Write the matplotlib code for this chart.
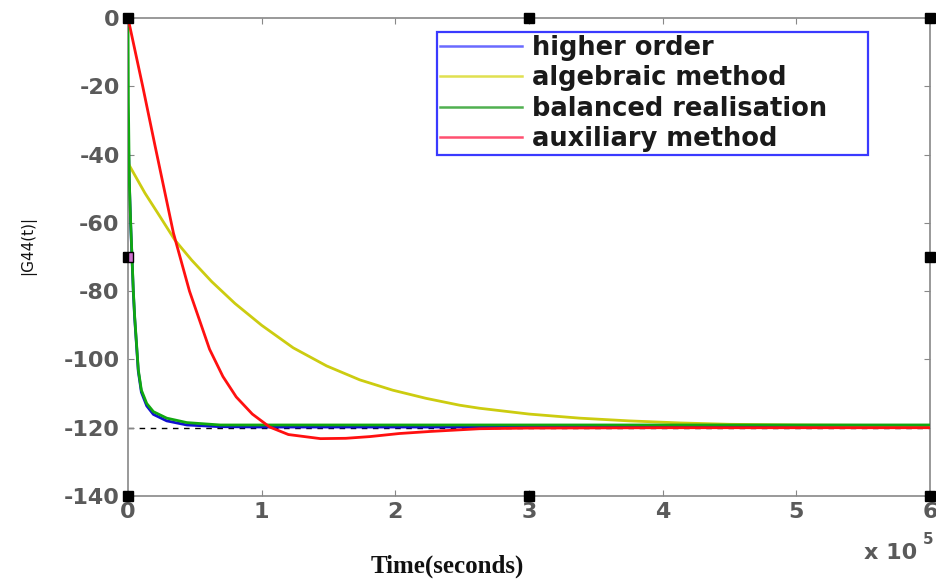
import matplotlib
matplotlib.use("Agg")
import matplotlib.pyplot as plt

# ---- data (time in units of 1e5 s) ----
x_higher = [0, 0.003, 0.01, 0.02, 0.028, 0.04, 0.05, 0.077, 0.1, 0.14, 0.19, 0.29, 0.44, 0.69, 1.0,
            2.0, 3.0, 4.0, 5.0, 6.0]
y_higher = [-33, -36, -48.5, -60.5, -68.5, -80.5, -88, -103.5, -109.6, -113.6, -116.1, -118.0, -119.2,
            -119.7, -119.8, -119.8, -119.8, -119.8, -119.8, -119.8]

x_algebraic = [0, 0.127, 0.24, 0.35, 0.476, 0.626, 0.8, 1.0, 1.236, 1.486, 1.735, 1.98, 2.23, 2.48,
               2.63, 3.0, 3.38, 3.75, 4.13, 4.5, 5.0, 5.5, 6.0]
y_algebraic = [-42.5, -51.3, -58.2, -65, -70.9, -77.2, -83.6, -90.0, -96.6, -101.9, -106, -109, -111.4,
               -113.4, -114.3, -116, -117.2, -118, -118.6, -119, -119.2, -119.3, -119.3]

x_balanced = [0, 0.003, 0.01, 0.02, 0.028, 0.04, 0.05, 0.077, 0.1, 0.14, 0.19, 0.29, 0.44, 0.69, 1.0,
              2.0, 3.0, 4.0, 5.0, 6.0]
y_balanced = [0, -25, -48, -60, -68, -80, -87.5, -103, -109, -112.9, -115.3, -117.2, -118.5, -119.2,
              -119.2, -119.2, -119.2, -119.2, -119.2, -119.2]

x_auxiliary = [0, 0.11, 0.2, 0.34, 0.46, 0.61, 0.71, 0.81, 0.93, 1.06, 1.2, 1.44, 1.63, 1.81, 2.03,
               2.26, 2.63, 3.0, 4.0, 5.0, 6.0]
y_auxiliary = [0, -20, -37, -63, -80, -97, -105, -111, -116, -119.8, -122, -123.2, -123.1, -122.6,
               -121.7, -121.1, -120.3, -120.1, -120, -120, -120]

ref_level = -120
series_labels = ["higher order", "algebraic method", "balanced realisation", "auxiliary method"]
x_ticks = [0, 1, 2, 3, 4, 5, 6]
y_ticks = [0, -20, -40, -60, -80, -100, -120, -140]

# ---- figure ----
fig = plt.figure(figsize=(9.36, 5.79), dpi=100)
ax = fig.add_axes([128/936, 83/579, 802/936, 478/579])

ax.axhline(ref_level, color="black", linestyle=(0, (4, 4)), linewidth=1.0, zorder=1)
ax.plot(x_higher, y_higher, color="#1010d0", linewidth=2, label=series_labels[0], zorder=2)
ax.plot(x_algebraic, y_algebraic, color="#cccc10", linewidth=2, label=series_labels[1], zorder=3)
ax.plot(x_balanced, y_balanced, color="#10a810", linewidth=2, label=series_labels[2], zorder=4)
ax.plot(x_auxiliary, y_auxiliary, color="#ff1010", linewidth=2, label=series_labels[3], zorder=5)

ax.set_xlim(0, 6)
ax.set_ylim(-140, 0)
ax.set_xticks(x_ticks)
ax.set_yticks(y_ticks)
ax.set_xticklabels([str(t) for t in x_ticks])
ax.set_yticklabels([str(t) for t in y_ticks])

for lab in ax.get_xticklabels() + ax.get_yticklabels():
    lab.set_fontfamily("DejaVu Sans")
    lab.set_fontweight("bold")
    lab.set_fontsize(16)
    lab.set_color("#5a5a5a")
ax.tick_params(axis="both", direction="in", length=4, color="#888888",
               top=True, right=True)
ax.tick_params(axis="x", pad=4)
ax.tick_params(axis="y", pad=6)
for sp in ax.spines.values():
    sp.set_color("#888888")
    sp.set_linewidth(1.2)

# legend
leg = ax.legend(loc="upper left", bbox_to_anchor=(0.385, 0.713, 0.538, 0.258), mode="expand",
                prop=dict(family="DejaVu Sans", weight="bold", size=18.5),
                handlelength=3.2, handletextpad=0.4, labelspacing=0.17, borderpad=0.12,
                borderaxespad=0, fancybox=False, framealpha=1)
leg.get_frame().set_edgecolor("#3a3aff")
leg.get_frame().set_linewidth(1.6)
leg_cols = ["#6a6aff", "#e0e050", "#50b050", "#ff5070"]
for h, c in zip(leg.get_lines(), leg_cols):
    h.set_color(c)
    h.set_linewidth(1.8)
for t in leg.get_texts():
    t.set_color("#1a1a1a")

# selection handles (decoration, axes fractions)
handle_pos = [(0, 1), (0.5, 1), (1, 1), (1, 0.5), (0, 0), (0.5, 0), (1, 0)]
for hx, hy in handle_pos:
    ax.plot([hx], [hy], marker="s", markersize=6.5, color="black", transform=ax.transAxes,
            clip_on=False, zorder=10)
ax.plot([0], [0.5], marker="s", markersize=6.5, markerfacecolor="black", markerfacecoloralt="#d070d0",
        fillstyle="left", markeredgecolor="black", transform=ax.transAxes, clip_on=False, zorder=10)

# labels
fig.text(28/936, 1 - 245/579, "|G44(t)|", rotation=90, ha="center", va="center",
         fontsize=11, family="DejaVu Sans", color="#111111")
fig.text(447/936, 1 - 566/579, "Time(seconds)", ha="center", va="center",
         fontsize=18, family="Liberation Serif", weight="bold", color="#111111")
fig.text(891/936, 1 - 553/579, "x 10", ha="center", va="center",
         fontsize=16, family="DejaVu Sans", weight="bold", color="#5a5a5a")
fig.text(928/936, 1 - 539/579, "5", ha="center", va="center",
         fontsize=11, family="DejaVu Sans", weight="bold", color="#5a5a5a")

fig.savefig("out.png", dpi=100)
